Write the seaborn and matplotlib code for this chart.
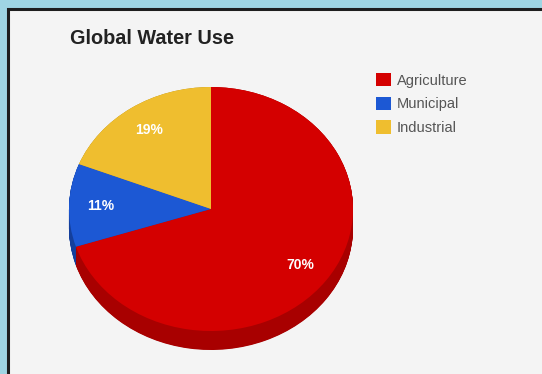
import numpy as np
import matplotlib
matplotlib.use("Agg")
import matplotlib.pyplot as plt
from matplotlib.patches import Rectangle
import seaborn as sns

# ---- data ----
categories = ["Agriculture", "Municipal", "Industrial"]
shares = [70, 11, 19]
title = "Global Water Use"

sns.set_style("white")
plt.rcParams["font.family"] = ["Liberation Sans", "DejaVu Sans"]

top_colors = sns.color_palette(["#d40000", "#1c58d4", "#efbe2f"])
side_colors = sns.color_palette(["#a80000", "#143f9c", "#b58e20"])

W, H = 542, 374
fig = plt.figure(figsize=(W / 100, H / 100), dpi=100)
fig.patch.set_facecolor("#9fd5e3")

# white panel with dark frame
fig.patches.append(Rectangle((8 / W, -0.02), 1.0, 1 - 9 / H + 0.02,
                             transform=fig.transFigure, facecolor="#f4f4f4",
                             edgecolor="#1e1e1e", linewidth=2.2, zorder=-5))

# pie geometry (pixels)
cx, rx = 211, 142
top_px, ry, depth_px = 87, 122, 19
d = depth_px / ry
ax_h = ry * (2 + d)
ax = fig.add_axes([(cx - rx) / W, (H - top_px - ax_h) / H, 2 * rx / W, ax_h / H])
ax.set_facecolor("none")
ax.set_zorder(2)

# side (extrusion)
for k in np.linspace(d, 0.0, 40):
    ax.pie(shares, colors=side_colors, startangle=90, counterclock=False,
           center=(0, -k), radius=1, wedgeprops=dict(linewidth=0))

wedges, _, autotexts = ax.pie(
    shares, colors=top_colors, startangle=90, counterclock=False,
    center=(0, 0), radius=1, autopct="%d%%", pctdistance=0.78,
    wedgeprops=dict(linewidth=0),
    textprops=dict(color="white", fontsize=10, fontweight="bold"))

ax.set_aspect("auto")
ax.set_xlim(-1, 1)
ax.set_ylim(-1 - d, 1)
ax.axis("off")

fig.text(70 / W, 1 - 39 / H, title, ha="left", va="center",
         fontsize=14.3, fontweight="bold", color="#222222")

leg = fig.legend(wedges, categories, loc="upper left",
                 bbox_to_anchor=(376 / W, 1 - 73 / H), frameon=False,
                 fontsize=10.5, labelcolor="#555555", handlelength=1.03,
                 handleheight=1.03, handletextpad=0.4, labelspacing=0.62,
                 borderaxespad=0, borderpad=0)
leg.set_zorder(3)

fig.savefig("out.png", dpi=100, facecolor=fig.get_facecolor())
